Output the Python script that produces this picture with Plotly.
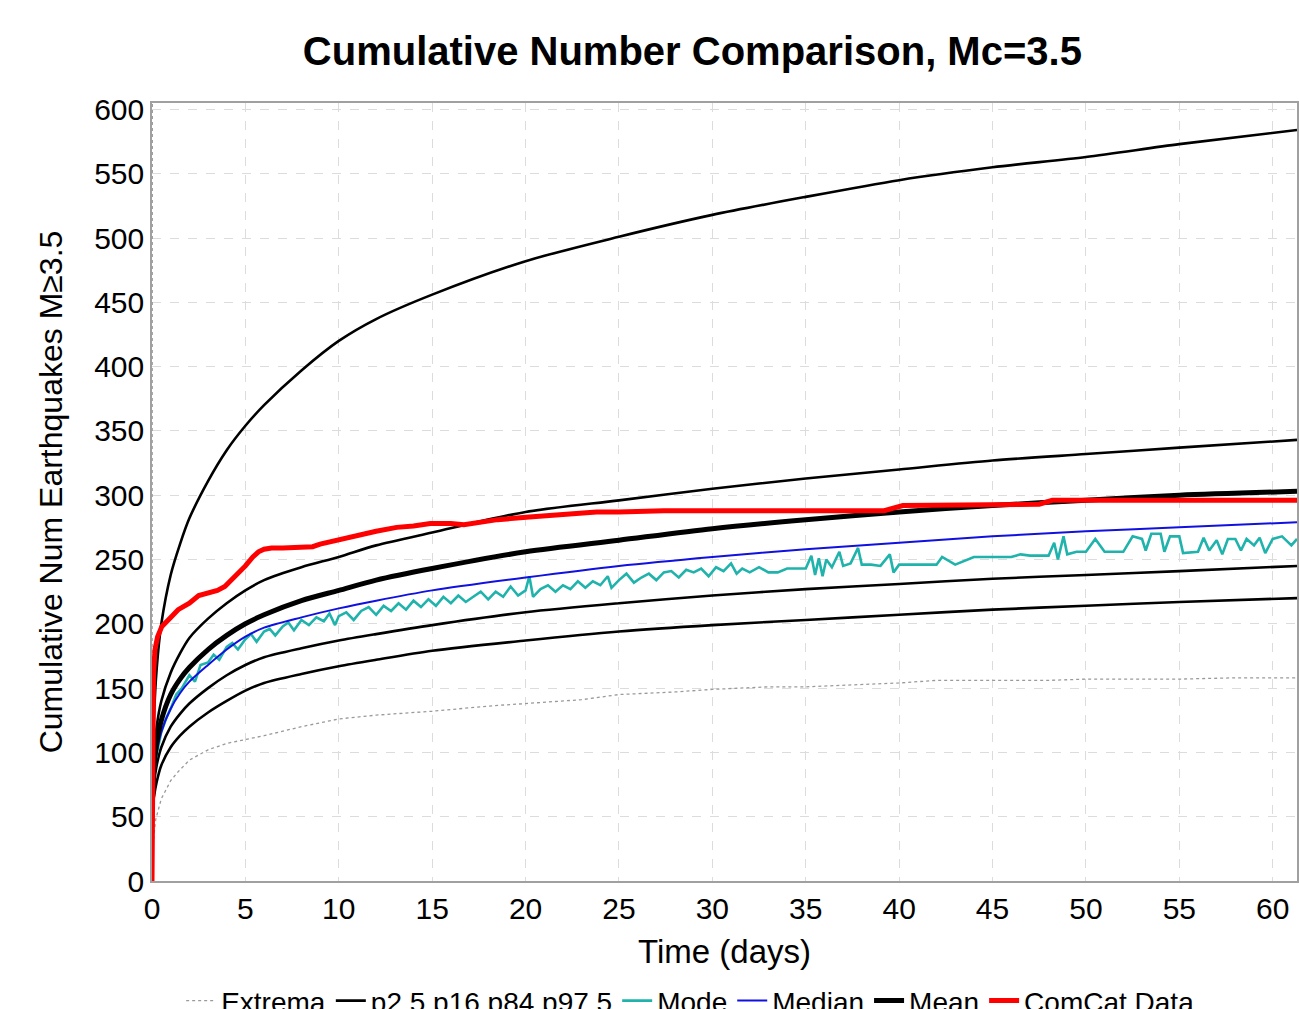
import plotly.graph_objects as go

# ---------------- data ----------------
days_q = [0.03, 0.1, 0.25, 0.5, 1, 1.5, 2, 3, 4, 5, 6, 8, 10, 12, 15, 20, 25, 30, 35, 40, 45, 50, 55, 61.3]
p97_5 = [75, 125, 165, 200, 238, 262, 282, 311, 335, 354, 370, 397, 420, 437, 456, 482, 501, 518, 532, 545, 555, 563, 573, 584]
p84 = [68, 95, 120, 140, 162, 177, 189, 204, 216, 226, 234, 244, 252, 261, 271, 287, 296, 305, 313, 320, 327, 332, 337, 343]
mean = [65, 88, 107, 125, 145, 157, 166, 180, 191, 200, 207, 218, 226, 234, 243, 256, 265, 274, 281, 287, 292, 296, 300, 303]
median = [63, 82, 100, 116, 134, 146, 155, 168, 180, 190, 197, 205, 212, 218, 226, 236, 245, 252, 258, 263, 268, 272, 275, 279]
p16 = [60, 75, 90, 104, 120, 130, 138, 150, 160, 168, 174, 181, 187, 192, 199, 209, 216, 222, 227, 231, 235, 238, 241, 245]
p2_5 = [55, 65, 77, 90, 104, 113, 120, 131, 140, 148, 154, 161, 167, 172, 179, 187, 194, 199, 203, 207, 211, 214, 217, 220]

mode_days = [0.03, 0.1, 0.2, 0.5, 0.8, 1.0, 1.3, 1.6, 2.0, 2.3, 2.6, 3.0, 3.3, 3.6, 4.0, 4.3, 4.6, 5.0, 5.3, 5.6,
             6.0, 6.3, 6.6, 7.0, 7.3, 7.6, 8.0, 8.4, 8.8, 9.2, 9.5, 9.8, 10.0, 10.4, 10.8, 11.2, 11.6, 12.0, 12.4, 12.8,
             13.2, 13.6, 14.0, 14.4, 14.8, 15.2, 15.6, 16.0, 16.4, 16.8, 17.2, 17.6, 18.0, 18.4, 18.8, 19.2, 19.6, 20.0, 20.2, 20.4,
             20.8, 21.2, 21.6, 22.0, 22.4, 22.8, 23.2, 23.6, 24.0, 24.4, 24.6, 25.0, 25.4, 25.8, 26.2, 26.6, 27.0, 27.4, 27.8, 28.2,
             28.6, 29.0, 29.4, 29.8, 30.2, 30.6, 31.0, 31.3, 31.6, 32.0, 32.5, 33.0, 33.5, 34.0, 34.5, 35.0, 35.3, 35.5, 35.7, 35.9,
             36.1, 36.4, 36.8, 37.0, 37.4, 37.8, 38.0, 38.5, 39.0, 39.5, 39.7, 40.0, 41.0, 42.0, 42.3, 43.0, 44.0, 45.0, 46.0, 46.5,
             47.0, 48.0, 48.3, 48.5, 48.8, 49.0, 49.5, 50.0, 50.5, 51.0, 52.0, 52.5, 53.0, 53.2, 53.5, 54.0, 54.2, 54.5, 55.0, 55.2,
             56.0, 56.3, 56.6, 57.0, 57.3, 57.6, 58.0, 58.3, 58.6, 59.0, 59.3, 59.6, 60.0, 60.5, 61.0, 61.3]
mode = [62, 80, 95, 116, 128, 134, 145, 150, 160, 155, 168, 170, 176, 172, 182, 185, 180, 188, 192, 186,
        194, 196, 191, 198, 201, 195, 203, 199, 205, 202, 208, 199, 206, 209, 203, 210, 213, 207, 214, 210,
        216, 211, 218, 213, 219, 214, 221, 216, 222, 217, 221, 225, 219, 225, 221, 229, 222, 226, 237, 221,
        227, 230, 225, 230, 227, 233, 228, 233, 230, 237, 228, 234, 239, 232, 236, 239, 234, 240, 241, 236,
        242, 240, 243, 237, 244, 241, 247, 239, 243, 240, 244, 240, 240, 243, 243, 243, 253, 238, 251, 237,
        250, 244, 256, 245, 247, 259, 246, 246, 245, 254, 240, 246, 246, 246, 252, 246, 252, 252, 252, 254,
        253, 253, 263, 250, 268, 254, 256, 256, 266, 256, 256, 268, 266, 257, 270, 270, 256, 268, 268, 255,
        256, 267, 257, 265, 254, 266, 266, 257, 266, 261, 267, 255, 266, 268, 261, 266]

extrema_days = [0, 0.02, 0.1, 0.2, 0.5, 1, 1.4, 2, 3, 4, 5, 6, 8, 10, 12, 15, 18, 20, 23, 25, 28, 30, 33, 35, 38, 40, 42, 45, 48, 50, 55, 58, 61.3]
extrema_low = [0, 20, 35, 48, 64, 78, 85, 94, 102, 107, 110, 113, 120, 126, 129, 132, 136, 138, 141, 145, 147, 149, 151, 151, 153, 154, 156, 156, 156, 157, 157, 158, 158]
extrema_high_days = [0, 0.02]
extrema_high = [0, 700]

comcat_days = [0, 0.03, 0.08, 0.16, 0.3, 0.53, 0.7, 1.0, 1.4, 2.0, 2.5, 3.0, 3.5, 3.9, 4.4, 5.0, 5.4, 5.7, 6.0, 6.4,
               7.0, 8.0, 8.6, 9.0, 9.6, 10.3, 11.3, 12.0, 13.1, 14.0, 14.9, 16.0, 16.7, 18.5, 20.2, 22.0, 23.8, 25.0, 27.4, 30.0,
               35.0, 39.2, 40.2, 44.0, 47.5, 48.2, 55.0, 61.3]
comcat = [0, 120, 160, 180, 190, 198, 201, 205, 211, 216, 222, 224, 226, 229, 236, 245, 252, 256, 258, 259,
          259, 260, 260, 262, 264, 267, 270, 272, 275, 276, 278, 278, 277, 281, 283, 285, 287, 287, 288, 288,
          288, 288, 292, 293, 293, 296, 296, 296]

x_ticks = [0, 5, 10, 15, 20, 25, 30, 35, 40, 45, 50, 55, 60]
y_ticks = [0, 50, 100, 150, 200, 250, 300, 350, 400, 450, 500, 550, 600]

# ---------------- figure ----------------
fig = go.Figure()

fig.add_trace(go.Scatter(x=extrema_days, y=extrema_low, mode="lines", name="Extrema",
                         line=dict(color="#9a9a9a", width=1.3, dash="dot"),
                         legendgroup="ext"))
fig.add_trace(go.Scatter(x=extrema_high_days, y=extrema_high, mode="lines", name="Extrema",
                         line=dict(color="#9a9a9a", width=1.3, dash="dot"),
                         legendgroup="ext", showlegend=False))

for i, series in enumerate([p2_5, p16, p84, p97_5]):
    fig.add_trace(go.Scatter(x=days_q, y=series, mode="lines", name="p2.5 p16 p84 p97.5",
                             line=dict(color="black", width=2.6, shape="spline", smoothing=0.8),
                             legendgroup="pct", showlegend=(i == 0)))

fig.add_trace(go.Scatter(x=mode_days, y=mode, mode="lines", name="Mode",
                         line=dict(color="#1fb3ac", width=2.6)))
fig.add_trace(go.Scatter(x=days_q, y=median, mode="lines", name="Median",
                         line=dict(color="#1010e0", width=2, shape="spline", smoothing=0.8)))
fig.add_trace(go.Scatter(x=days_q, y=mean, mode="lines", name="Mean",
                         line=dict(color="black", width=5, shape="spline", smoothing=0.8)))
fig.add_trace(go.Scatter(x=comcat_days, y=comcat, mode="lines", name="ComCat Data",
                         line=dict(color="#ff0000", width=5)))

fig.update_layout(
    width=1299, height=1009,
    paper_bgcolor="white", plot_bgcolor="white",
    margin=dict(l=152, r=2, t=103, b=128, autoexpand=False),
    font=dict(family="Liberation Sans, Arial, sans-serif", color="black"),
    title=dict(text="Cumulative Number Comparison, Mc=3.5",
               font=dict(size=40, weight=700, color="black"),
               x=0.533, xanchor="center", y=0.949, yanchor="middle"),
    showlegend=True,
    legend=dict(orientation="h", x=0.47, xanchor="center", y=-0.122, yanchor="top",
                font=dict(size=28), traceorder="normal", itemwidth=30,
                bgcolor="rgba(0,0,0,0)"),
)

fig.update_xaxes(range=[0, 61.3], tickvals=x_ticks, ticks="", showgrid=True,
                 gridcolor="#dcdcdc", griddash="dash", gridwidth=1,
                 showline=True, linecolor="#a0a0a0", linewidth=1.5, mirror=True,
                 zeroline=False, tickfont=dict(size=30),
                 title=dict(text="Time (days)", font=dict(size=33), standoff=16))
fig.update_yaxes(range=[0, 605], tickvals=y_ticks, ticks="", showgrid=True,
                 gridcolor="#dcdcdc", griddash="dash", gridwidth=1,
                 showline=True, linecolor="#a0a0a0", linewidth=1.5, mirror=True,
                 zeroline=False, tickfont=dict(size=30),
                 title=dict(text="Cumulative Num Earthquakes M≥3.5", font=dict(size=32), standoff=22))

fig.write_html("out.html")
